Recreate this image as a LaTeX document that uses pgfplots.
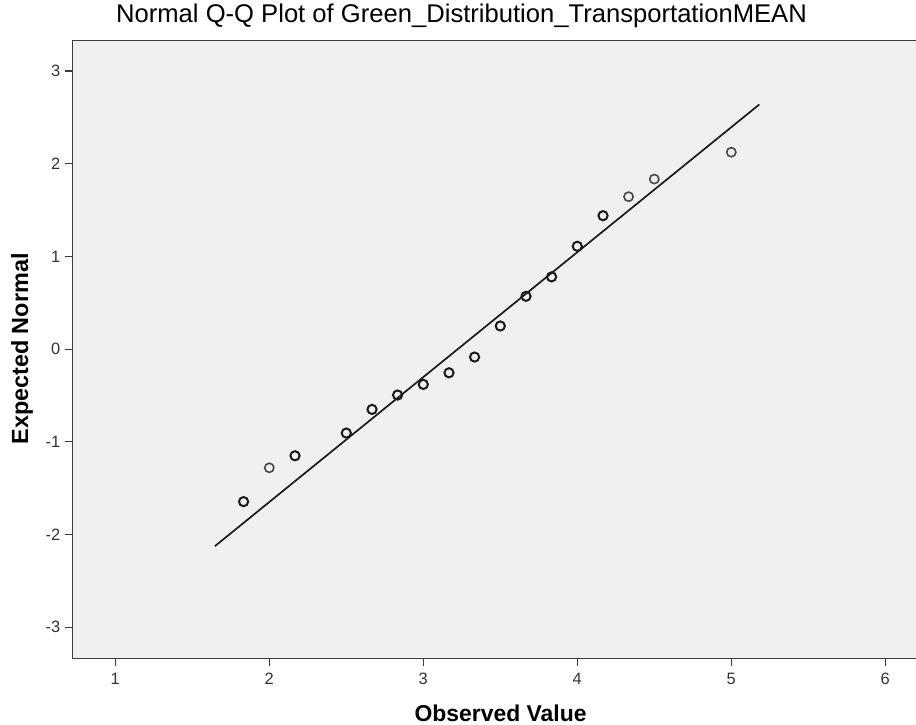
\documentclass[border=0pt]{standalone}
\usepackage{fontspec}
\setmainfont{Liberation Sans}
\usepackage{pgfplots}
\pgfplotsset{compat=1.18}
\definecolor{bgfill}{HTML}{F0F0F0}
\definecolor{framec}{HTML}{3C3C3C}
\definecolor{darkpt}{HTML}{1A1A1A}
\definecolor{lightpt}{HTML}{484848}
\begin{document}
\begin{tikzpicture}
\path[use as bounding box] (-72.7bp,-66.7bp) rectangle (843.3bp,658.3bp);
\begin{axis}[
  scale only axis,
  width=851.1bp, height=617.8bp,
  xmin=0.7234, xmax=6.25,
  ymin=-3.335, ymax=3.33,
  axis background/.style={fill=bgfill},
  axis line style={framec, line width=1.3bp},
  xtick={1,2,3,4,5,6},
  ytick={-3,-2,-1,0,1,2,3},
  xtick pos=bottom, ytick pos=left,
  tick align=outside,
  major tick length=8bp,
  tick style={framec, line width=1.2bp},
  /pgf/number format/assume math mode=true,
  tick label style={font=\fontsize{16.5}{18}\selectfont, text=black!80},
  xticklabel style={yshift=-3bp},
  yticklabel style={xshift=-1bp},
  title={Normal Q-Q Plot of Green\_Distribution\_TransportationMEAN},
  title style={at={(axis description cs:0.4568,1.0197)}, anchor=base, font=\fontsize{25.7}{28}\selectfont, inner sep=0pt},
  xlabel={Observed Value},
  xlabel style={at={(axis description cs:0.5027,-0.1026)}, anchor=base, font=\bfseries\fontsize{23}{26}\selectfont, inner sep=0pt},
  ylabel={Expected Normal},
  ylabel style={at={(axis description cs:-0.0525,0.5007)}, anchor=base, rotate=0, font=\bfseries\fontsize{23.5}{26}\selectfont, inner sep=0pt},
  clip=false,
]
% fitted reference line
\addplot[darkpt, line width=1.7bp, no marks] coordinates {(1.647,-2.125) (5.182,2.640)};
% observed points (darker, repeated values)
\addplot[only marks, mark=o, mark size=4.6bp, mark options={draw=darkpt, line width=2bp}] coordinates {
(1.833,-1.645) (2.167,-1.15) (2.5,-0.905) (2.667,-0.65) (2.833,-0.495)
(3.0,-0.38) (3.167,-0.255) (3.333,-0.085) (3.5,0.25) (3.667,0.57)
(3.833,0.78) (4.0,1.11) (4.167,1.44)
};
% observed points (single values, lighter)
\addplot[only marks, mark=o, mark size=4.6bp, mark options={draw=lightpt, line width=1.6bp}] coordinates {
(2.0,-1.28) (4.333,1.645) (4.5,1.835) (5.0,2.125)
};
\end{axis}
\end{tikzpicture}
\end{document}
